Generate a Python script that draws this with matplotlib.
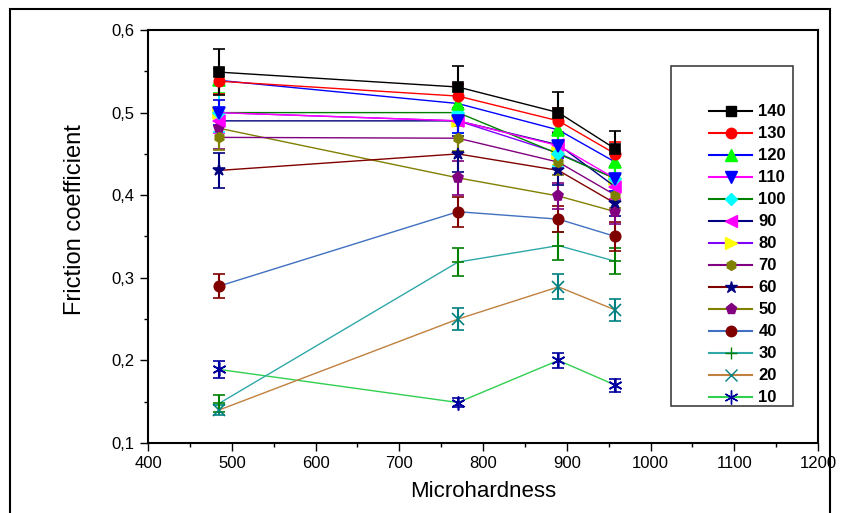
import numpy as np
import matplotlib.pyplot as plt
from matplotlib.patches import Rectangle
from matplotlib.lines import Line2D
from matplotlib.ticker import MultipleLocator, FuncFormatter

plt.rcParams['font.family'] = ['Liberation Sans', 'DejaVu Sans']

# microhardness of the four samples
hardness = [485, 770, 890, 958]

# load levels (legend labels), top to bottom
loads = ['140', '130', '120', '110', '100', '90', '80', '70', '60', '50', '40', '30', '20', '10']

mu_140 = [0.549, 0.531, 0.500, 0.456]
mu_130 = [0.538, 0.520, 0.490, 0.450]
mu_120 = [0.539, 0.511, 0.479, 0.440]
mu_110 = [0.500, 0.490, 0.460, 0.420]
mu_100 = [0.500, 0.500, 0.450, 0.420]
mu_90 = [0.490, 0.490, 0.461, 0.410]
mu_80 = [0.500, 0.490, 0.451, 0.420]
mu_70 = [0.470, 0.469, 0.440, 0.400]
mu_60 = [0.430, 0.450, 0.430, 0.390]
mu_50 = [0.481, 0.421, 0.399, 0.380]
mu_40 = [0.290, 0.380, 0.371, 0.350]
mu_30 = [0.148, 0.319, 0.339, 0.320]
mu_20 = [0.140, 0.250, 0.289, 0.261]
mu_10 = [0.189, 0.149, 0.200, 0.170]

err_140 = [0.028, 0.026, 0.025, 0.022]
err_130 = [0.015, 0.015, 0.015, 0.015]
err_120 = [0.015, 0.015, 0.015, 0.015]
err_110 = [0.015, 0.015, 0.015, 0.015]
err_100 = [0.023, 0.025, 0.015, 0.015]
err_90 = [0.015, 0.015, 0.015, 0.015]
err_80 = [0.015, 0.015, 0.015, 0.015]
err_70 = [0.015, 0.015, 0.015, 0.015]
err_60 = [0.021, 0.022, 0.018, 0.015]
err_50 = [0.025, 0.021, 0.016, 0.015]
err_40 = [0.015, 0.018, 0.016, 0.017]
err_30 = [0.010, 0.017, 0.017, 0.016]
err_20 = [0.006, 0.013, 0.015, 0.013]
err_10 = [0.010, 0.006, 0.009, 0.008]

means = [mu_140, mu_130, mu_120, mu_110, mu_100, mu_90, mu_80,
         mu_70, mu_60, mu_50, mu_40, mu_30, mu_20, mu_10]
errors = [err_140, err_130, err_120, err_110, err_100, err_90, err_80,
          err_70, err_60, err_50, err_40, err_30, err_20, err_10]

line_colors = ['black', 'red', 'blue', '#ff00ff', '#008000', '#000080', '#8000ff',
               '#800080', '#800000', '#808000', '#4070c0', '#30a8a8', '#c08040', '#30d050']
marker_colors = ['black', 'red', '#00ff00', 'blue', 'cyan', '#ff00ff', 'yellow',
                 '#808000', '#000080', '#800080', '#800000', '#008000', '#008080', '#0000a0']
markers = ['s', 'o', '^', 'v', 'D', '<', '>', 'h', '*', 'p', 'o', '+', 'x', (6, 2, 0)]
sizes = [7, 7.5, 8, 8, 6, 8, 8, 7, 9, 8, 7.5, 8, 9, 10]

fig = plt.figure(figsize=(8.46, 5.13), dpi=100)
ax = fig.add_axes([0.175, 0.1365, 0.792, 0.805])

# plot lowest load first so the high loads end up on top
for i in reversed(range(len(loads))):
    ax.errorbar(hardness, means[i], yerr=errors[i], color=line_colors[i], lw=1,
                ecolor=marker_colors[i], elinewidth=1.5, capsize=4, capthick=1.2,
                marker=markers[i], markersize=sizes[i], markerfacecolor=marker_colors[i],
                markeredgecolor=marker_colors[i], markeredgewidth=1.2)

ax.set_xlim(400, 1200)
ax.set_ylim(0.1, 0.6)
ax.xaxis.set_major_locator(MultipleLocator(100))
ax.xaxis.set_minor_locator(MultipleLocator(50))
ax.yaxis.set_major_locator(MultipleLocator(0.1))
ax.yaxis.set_minor_locator(MultipleLocator(0.05))
ax.yaxis.set_major_formatter(FuncFormatter(lambda v, p: f'{v:.1f}'.replace('.', ',')))
ax.tick_params(which='major', direction='out', length=6, width=1, labelsize=12)
ax.tick_params(which='minor', direction='out', length=3, width=1)
for sp in ax.spines.values():
    sp.set_linewidth(1.5)

ax.set_xlabel('Microhardness', fontsize=16, labelpad=7)
ax.set_ylabel('Friction coefficient', fontsize=17)
ax.yaxis.set_label_coords(-0.092, 0.54)

# legend: line + marker only, frameless, with a separate box drawn around it
handles = [Line2D([], [], color=line_colors[i], lw=1.5, marker=markers[i],
                  markersize=sizes[i], markerfacecolor=marker_colors[i],
                  markeredgecolor=marker_colors[i]) for i in range(len(loads))]
ax.legend(handles, loads, loc='upper left', bbox_to_anchor=(0.825, 0.84), frameon=False,
          prop={'weight': 'bold', 'size': 12}, handlelength=2.6,
          handletextpad=0.35, labelspacing=0.42, borderpad=0)
ax.add_patch(Rectangle((0.78, 0.09), 0.183, 0.823, transform=ax.transAxes,
                       fill=False, edgecolor='#404040', lw=1.2, clip_on=False))

# outer frame around the whole picture
fig.patches.append(Rectangle((0.0118, -0.05), 0.969, 1.0325, transform=fig.transFigure,
                             fill=False, edgecolor='black', lw=1.5))

fig.savefig('out.png', dpi=100)
